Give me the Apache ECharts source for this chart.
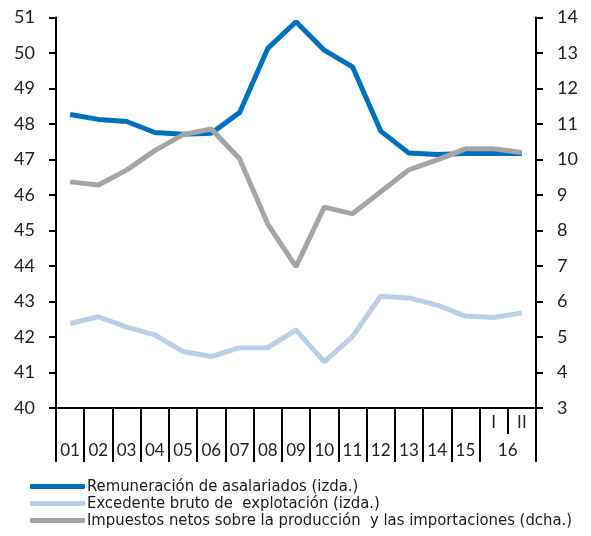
<!DOCTYPE html>
<html>
<head>
<meta charset="utf-8">
<script src="https://cdn.jsdelivr.net/npm/echarts@6/dist/echarts.min.js"></script>
<style>
  html, body { margin: 0; padding: 0; background: #fff; }
  #chart { width: 591px; height: 536px; }
</style>
</head>
<body>
<div id="chart"></div>
<script>
// periods: years 01..15, then 2016 quarters I and II
var periods = ['01', '02', '03', '04', '05', '06', '07', '08', '09', '10', '11', '12', '13', '14', '15', 'I', 'II'];
var yearLabel16 = '16';

var remuneracion = [48.27, 48.13, 48.07, 47.76, 47.71, 47.74, 48.32, 50.13, 50.88, 50.08, 49.61, 47.8, 47.18, 47.14, 47.17, 47.17, 47.17];
var excedente = [42.38, 42.57, 42.28, 42.06, 41.59, 41.45, 41.7, 41.7, 42.2, 41.3, 42.01, 43.15, 43.1, 42.9, 42.59, 42.55, 42.68];
var impuestos = [9.37, 9.28, 9.7, 10.25, 10.7, 10.86, 10.02, 8.18, 6.98, 8.66, 8.47, 9.09, 9.71, 9.99, 10.3, 10.3, 10.2];

var names = [
    'Remuneración de asalariados (izda.)',
    'Excedente bruto de  explotación (izda.)',
    'Impuestos netos sobre la producción  y las importaciones (dcha.)'
];
var colors = ['#0070c0', '#b9cfe8', '#a5a5a5'];

var axisFont = 'Lato';
var legendFont = '"Liberation Sans Narrow", "DejaVu Sans Condensed", "Liberation Sans", sans-serif';
var black = '#000';

var chart = echarts.init(document.getElementById('chart'));

var option = {
    animation: false,
    grid: {
        left: 56,
        right: 55,
        top: 17.5,
        bottom: 128
    },
    legend: {
        orient: 'vertical',
        left: 25,
        top: 473,
        height: 100,
        itemWidth: 55,
        itemHeight: 5,
        itemGap: 0,
        icon: 'roundRect',
        textStyle: {
            fontFamily: legendFont,
            fontSize: 16.5,
            color: '#1a1a1a',
            padding: [0, 0, 0, -3]
        },
        data: names
    },
    xAxis: [
        {
            type: 'category',
            position: 'bottom',
            data: periods,
            boundaryGap: true,
            axisLine: { lineStyle: { color: black, width: 2 } },
            axisTick: {
                show: true,
                length: 26,
                interval: function (i) { return i >= 15; },
                lineStyle: { color: black, width: 2 }
            },
            axisLabel: {
                interval: 0,
                margin: 6,
                fontFamily: axisFont,
                fontSize: 17,
                color: '#222',
                formatter: function (v, i) { return i >= 15 ? v : ''; }
            }
        },
        {
            type: 'category',
            position: 'bottom',
            data: periods,
            boundaryGap: true,
            axisLine: { show: true, lineStyle: { color: black, width: 2 } },
            axisTick: {
                show: true,
                length: 54,
                interval: function (i) { return i !== 16; },
                lineStyle: { color: black, width: 2 }
            },
            axisLabel: {
                interval: 0,
                margin: 34,
                fontFamily: axisFont,
                fontSize: 17,
                color: '#222',
                formatter: function (v, i) {
                    if (i < 15) return v;
                    if (i === 15) return '{y|' + yearLabel16 + '}';
                    return '';
                },
                rich: {
                    y: { fontFamily: axisFont, fontSize: 17, color: '#222', padding: [0, 0, 0, 28] }
                }
            }
        }
    ],
    yAxis: [
        {
            type: 'value',
            position: 'left',
            min: 40,
            max: 51,
            interval: 1,
            splitLine: { show: false },
            axisLine: { show: true, lineStyle: { color: black, width: 2 } },
            axisTick: { show: true, length: 7, lineStyle: { color: black, width: 2 } },
            axisLabel: { margin: 21, fontFamily: axisFont, fontSize: 18, color: '#222' }
        },
        {
            type: 'value',
            position: 'right',
            min: 3,
            max: 14,
            interval: 1,
            splitLine: { show: false },
            axisLine: { show: true, lineStyle: { color: black, width: 2 } },
            axisTick: { show: true, length: 7, lineStyle: { color: black, width: 2 } },
            axisLabel: { margin: 21, fontFamily: axisFont, fontSize: 18, color: '#222' }
        }
    ],
    series: [
        {
            name: names[0],
            type: 'line',
            yAxisIndex: 0,
            data: remuneracion,
            showSymbol: false,
            lineStyle: { color: colors[0], width: 5 },
            itemStyle: { color: colors[0] },
            z: 3
        },
        {
            name: names[1],
            type: 'line',
            yAxisIndex: 0,
            data: excedente,
            showSymbol: false,
            lineStyle: { color: colors[1], width: 5 },
            itemStyle: { color: colors[1] },
            z: 2
        },
        {
            name: names[2],
            type: 'line',
            yAxisIndex: 1,
            data: impuestos,
            showSymbol: false,
            lineStyle: { color: colors[2], width: 5 },
            itemStyle: { color: colors[2] },
            z: 4
        }
    ]
};

chart.setOption(option);
</script>
</body>
</html>
